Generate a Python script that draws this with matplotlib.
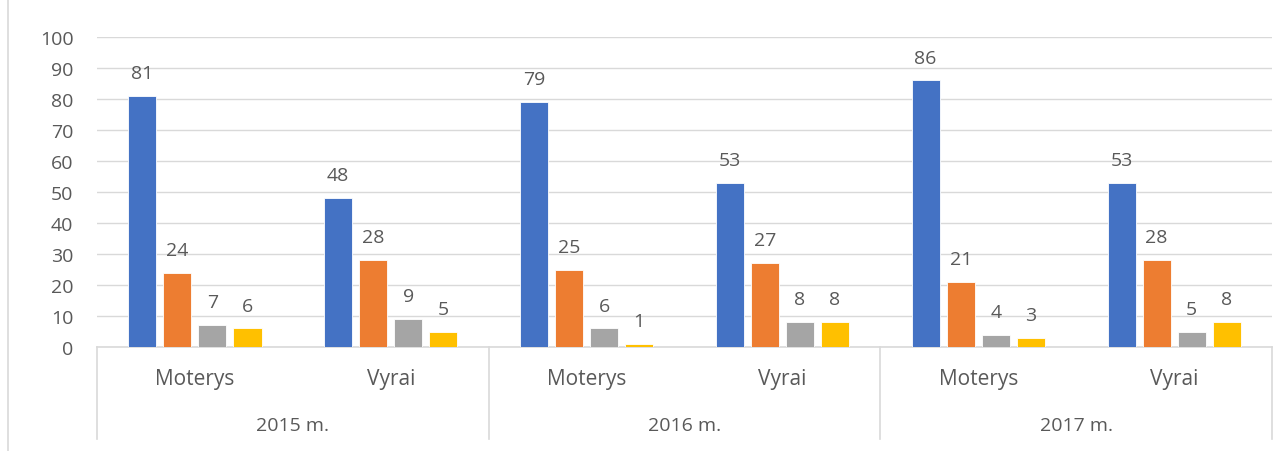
import numpy as np
import matplotlib.pyplot as plt
from matplotlib.lines import Line2D

plt.rcParams['font.family'] = ['Open Sans', 'DejaVu Sans']

groups = ["Moterys", "Vyrai", "Moterys", "Vyrai", "Moterys", "Vyrai"]
years = ["2015 m.", "2016 m.", "2017 m."]
series_1 = [81, 48, 79, 53, 86, 53]
series_2 = [24, 28, 25, 27, 21, 28]
series_3 = [7, 9, 6, 8, 4, 5]
series_4 = [6, 5, 1, 8, 3, 8]
colors = ["#4472C4", "#ED7D31", "#A5A5A5", "#FFC000"]
text_color = "#595959"
line_color = "#D9D9D9"


def main():
    fig = plt.figure(figsize=(12.78, 4.52), dpi=100)
    ax = fig.add_axes([97 / 1278, 1 - 348 / 452, 1175 / 1278, 310 / 452])

    x = np.arange(len(groups))
    step = 0.179
    width = 0.143
    all_series = [series_1, series_2, series_3, series_4]
    for i, (vals, c) in enumerate(zip(all_series, colors)):
        bars = ax.bar(x + (i - 1.5) * step, vals, width, color=c,
                      edgecolor="white", linewidth=0.6, zorder=3)
        for b, v in zip(bars, vals):
            ax.annotate(str(v), (b.get_x() + b.get_width() / 2, v),
                        xytext=(0, 10), textcoords="offset points",
                        ha="center", va="bottom", fontsize=14, color=text_color)

    ax.set_xlim(-0.5, len(groups) - 0.5)
    ax.set_ylim(0, 100)
    ax.set_yticks(range(0, 101, 10))
    ax.tick_params(axis="y", length=0, pad=17, labelsize=14, labelcolor=text_color)
    ax.set_xticks([])
    ax.grid(axis="y", color=line_color, linewidth=1, zorder=0)
    for s in ["top", "right", "left"]:
        ax.spines[s].set_visible(False)
    ax.spines["bottom"].set_color(line_color)
    ax.spines["bottom"].set_linewidth(1.2)

    # two-level category axis
    trans = ax.get_xaxis_transform()
    for xs in [-0.5, 1.5, 3.5, 5.5]:
        ax.add_line(Line2D([xs, xs], [0, -0.297], transform=trans,
                           color=line_color, linewidth=1.2, clip_on=False))
    for xi, g in zip(x, groups):
        ax.text(xi, -0.103, g, transform=trans, ha="center", va="center",
                fontsize=15, color=text_color)
    for k, yr in enumerate(years):
        ax.text(2 * k + 0.5, -0.252, yr, transform=trans, ha="center",
                va="center", fontsize=14, color=text_color)

    # chart frame edge on the left
    fig.add_artist(Line2D([8 / 1278, 8 / 1278], [0, 1], transform=fig.transFigure,
                          color=line_color, linewidth=1.2))

    fig.savefig("out.png", dpi=100)
    plt.close(fig)


if __name__ == "__main__":
    main()
